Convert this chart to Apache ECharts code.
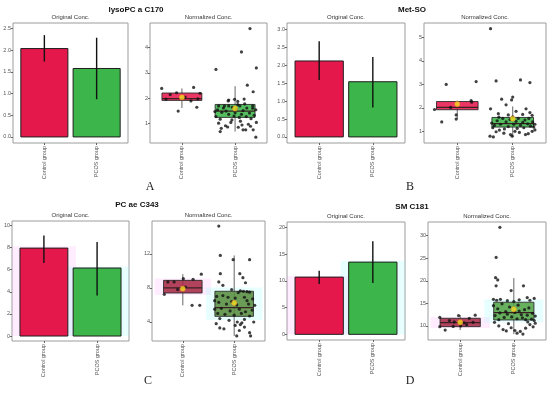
<!DOCTYPE html>
<html><head><meta charset="utf-8">
<script src="https://cdn.jsdelivr.net/npm/echarts@6/dist/echarts.min.js"></script>
<style>html,body{margin:0;padding:0;background:#fff}#c{width:550px;height:394px}</style>
</head><body><div id="c"></div><script>
// ---------------- DATA ----------------
const categories = ['Control group', 'PCOS group'];
const panelTitles = ['lysoPC a C170', 'Met-SO', 'PC ae C343', 'SM C181'];
const panelLetters = ['A', 'B', 'C', 'D'];
const subTitles = ['Original Conc.', 'Normalized Conc.'];

// Original concentration: bar heights and error-bar ends
const barMeanA = [2.04, 1.58], barLowA = [1.74, 0.87], barHighA = [2.35, 2.29];
const barMeanB = [2.12, 1.54], barLowB = [1.59, 0.82], barHighB = [2.67, 2.23];
const barMeanC = [7.95, 6.15], barLowC = [6.6, 3.67], barHighC = [9.1, 8.5];
const barMeanD = [10.7, 13.5], barLowD = [9.4, 9.6], barHighD = [11.9, 17.4];

// Normalized concentration: box stats [lower whisker, Q1, median, Q3, upper whisker]
const boxCtrlA = [1.62, 1.92, 1.99, 2.21, 2.39], boxPcosA = [0.69, 1.25, 1.5, 1.76, 2.48];
const boxCtrlB = [1.52, 1.92, 2.02, 2.27, 2.31], boxPcosB = [0.76, 1.18, 1.33, 1.59, 2.06];
const boxCtrlC = [5.95, 7.4, 8.0, 8.88, 9.6], boxPcosC = [2.36, 4.66, 5.68, 7.6, 11.8];
const boxCtrlD = [9.1, 9.85, 10.74, 11.7, 12.4], boxPcosD = [8.2, 11.33, 12.96, 15.26, 20.6];
const groupMeanA = [2.04, 1.6], groupMeanB = [2.16, 1.54], groupMeanC = [7.9, 6.23], groupMeanD = [10.8, 13.7];

// Individual samples: [jitter offset, value]
const ptsCtrlA = [[-0.38,2.39],[-0.10,2.22],[0.22,2.43],[0.34,2.2],[-0.07,1.5],[0.28,1.65],[0.17,1.9],[0.06,2.05],[-0.22,2.15],[0.3,1.98],[-0.3,1.97]];
const ptsPcosA = [[-0.36,3.14],[0.12,3.83],[0.28,4.75],[0.40,3.20],[0.39,0.47],[0.23,2.52],[0.34,2.26],[0.17,1.97],[-0.12,1.93],[-0.01,1.96],[-0.13,1.90],[0.05,1.88],
 [-0.31,1.70],[-0.20,1.70],[-0.12,1.70],[0.09,1.70],[0.18,1.78],[0.33,1.61],[0.39,1.55],[-0.36,1.28],[-0.31,1.02],[-0.26,0.82],[-0.28,0.69],[-0.18,0.92],[-0.14,0.87],
 [0.06,0.86],[0.15,0.76],[0.20,0.76],[0.25,0.98],[0.29,0.90],[0.34,0.76],[0.40,1.05],[-0.12,1.37],[0.00,1.43],[0.12,1.37],[0.21,1.28],[-0.06,1.15],[0.10,1.10],
 [-0.25,1.45],[-0.33,1.55],[-0.22,1.62],[0.27,1.42],[0.36,1.33],[0.02,1.58],[-0.05,1.65],[0.15,1.52],[-0.17,1.50],[0.30,1.20],[-0.02,1.30],[0.08,1.25],[-0.28,1.18],
 [0.22,1.62],[0.13,0.95],[-0.08,1.05],[0.33,1.70],[-0.38,1.48],[0.05,1.75]];
const ptsCtrlB = [[-0.2,3.0],[0.34,3.12],[-0.28,1.4],[-0.41,1.93],[-0.12,2.02],[-0.02,1.7],[-0.02,1.52],[0.26,2.24],[0.25,2.31]];
const ptsPcosB = [[-0.4,5.38],[-0.3,3.15],[0.14,3.19],[0.31,3.08],[0.0,2.46],[-0.02,2.34],[-0.2,2.37],[-0.4,1.96],[-0.12,2.13],[0.24,1.96],[0.31,1.8],[-0.41,0.79],
 [-0.35,0.76],[-0.04,0.86],[-0.01,0.79],[0.23,0.86],[0.4,1.06],[-0.38,1.35],[-0.33,1.25],[-0.28,1.45],[-0.22,1.3],[-0.18,1.55],[-0.12,1.4],[-0.08,1.2],[-0.05,1.5],
 [0.02,1.3],[0.06,1.42],[0.1,1.55],[0.14,1.25],[0.18,1.38],[0.22,1.48],[0.27,1.32],[0.32,1.22],[0.36,1.4],[0.4,1.3],[-0.36,1.15],[-0.25,1.6],[-0.15,1.1],[0.0,1.62],
 [0.08,1.12],[0.2,1.15],[0.29,1.55],[0.38,1.18],[-0.3,0.98],[-0.16,0.92],[0.04,1.0],[0.12,0.95],[0.28,0.9],[0.35,1.0],[-0.24,1.05],[-0.26,1.75],[0.06,1.85],
 [-0.08,1.7],[0.18,1.72],[0.35,1.68]];
const ptsCtrlC = [[-0.36,7.24],[-0.29,8.7],[-0.17,8.7],[0.01,9.08],[0.2,9.0],[0.36,9.6],[0.18,5.95],[0.33,5.95],[-0.1,7.8],[0.05,8.1]];
const ptsPcosC = [[-0.3,15.25],[-0.27,11.8],[-0.02,11.3],[0.3,11.3],[-0.27,9.66],[0.11,9.66],[0.17,9.2],[-0.3,8.7],[0.22,8.6],[-0.22,8.3],[-0.05,7.8],[0.12,7.65],
 [0.18,7.6],[0.25,7.55],[0.3,7.5],[0.08,7.45],[-0.34,7.0],[-0.22,7.1],[-0.12,6.9],[0.02,6.8],[0.2,6.9],[0.36,6.7],[-0.3,6.3],[-0.15,6.1],[0.05,6.0],[0.28,6.1],
 [0.4,5.95],[-0.38,5.5],[-0.25,5.6],[-0.08,5.3],[0.1,5.5],[0.22,5.2],[0.35,5.4],[-0.32,5.0],[-0.18,4.9],[0.0,4.8],[0.14,5.0],[0.3,4.7],[-0.28,4.4],[-0.1,4.2],
 [0.06,4.0],[0.2,4.3],[0.38,4.0],[-0.35,3.8],[0.15,3.9],[0.02,3.6],[0.12,3.7],[-0.28,3.3],[-0.2,3.2],[0.2,3.4],[0.3,2.75],[0.32,2.36],[0.05,2.36],[0.1,3.0],
 [-0.05,6.4],[-0.38,6.5],[0.25,6.5]];
const ptsCtrlD = [[-0.38,11.9],[-0.38,9.85],[-0.28,9.1],[-0.2,11.2],[-0.11,10.9],[0.07,10.7],[0.17,11.7],[0.24,10.8],[0.28,12.4],[-0.03,12.3],[-0.13,9.9],[0.01,10.0],[0.12,10.3]];
const ptsPcosD = [[-0.26,31.85],[-0.33,25.2],[-0.34,20.7],[-0.3,20.2],[-0.33,18.9],[0.18,18.9],[-0.05,17.85],[0.25,16.3],[-0.38,15.9],[-0.32,15.7],[-0.25,15.9],
 [-0.12,15.6],[0.0,15.4],[0.1,15.8],[0.3,15.7],[0.38,16.1],[-0.38,14.5],[-0.3,13.8],[-0.22,14.9],[-0.15,13.2],[-0.08,14.2],[0.02,13.0],[0.08,14.6],[0.14,12.5],
 [0.2,13.6],[0.28,14.0],[0.35,12.8],[0.4,12.2],[-0.35,12.3],[-0.26,12.9],[-0.18,11.9],[-0.04,12.0],[0.06,11.6],[0.16,11.8],[0.25,12.4],[0.33,11.5],[-0.12,12.6],
 [0.1,13.3],[0.22,11.4],[0.38,11.2],[-0.28,11.4],[-0.36,10.8],[-0.28,10.0],[-0.2,9.2],[-0.14,8.9],[-0.05,9.6],[0.02,9.0],[0.06,8.4],[0.12,8.8],[0.17,8.2],
 [0.22,9.5],[0.3,10.3],[0.36,9.8],[0.4,10.6],[-0.1,10.5],[0.26,10.9]];

// Axis tick values
const ticksBarA = [0, 0.5, 1, 1.5, 2, 2.5], ticksBoxA = [1, 2, 3, 4];
const ticksBarB = [0, 0.5, 1, 1.5, 2, 2.5, 3], ticksBoxB = [1, 2, 3, 4, 5];
const ticksBarC = [0, 2, 4, 6, 8, 10], ticksBoxC = [4, 8, 12];
const ticksBarD = [0, 5, 10, 15, 20], ticksBoxD = [10, 15, 20, 25, 30];

// ---------------- LAYOUT / STYLE ----------------
const grids = [
  {left: 13, top: 23, width: 115, height: 120}, {left: 150, top: 23, width: 117, height: 120},
  {left: 287, top: 23, width: 118, height: 120}, {left: 424, top: 23, width: 122, height: 120},
  {left: 12, top: 221, width: 117, height: 120}, {left: 152, top: 221, width: 113, height: 120},
  {left: 287, top: 222, width: 118, height: 118}, {left: 428, top: 222, width: 118, height: 118}
];
const yRanges = [[-0.14, 2.63], [0.24, 4.97], [-0.17, 3.18], [0.5, 5.62], [-0.45, 10.4], [1.77, 15.84], [-1.06, 21], [6.89, 33.04]];
const yTicks = [ticksBarA, ticksBoxA, ticksBarB, ticksBoxB, ticksBarC, ticksBoxC, ticksBarD, ticksBoxD];
const yDecimals = [1, 0, 1, 0, 0, 0, 0, 0];

const panels = [
  {mean: barMeanA, lo: barLowA, hi: barHighA, boxes: [boxCtrlA, boxPcosA], gm: groupMeanA, pts: [ptsCtrlA, ptsPcosA],
   boxFill: ['#e8194e', '#3cb54a'], glow: false},
  {mean: barMeanB, lo: barLowB, hi: barHighB, boxes: [boxCtrlB, boxPcosB], gm: groupMeanB, pts: [ptsCtrlB, ptsPcosB],
   boxFill: ['#e8194e', '#3cb54a'], glow: false},
  {mean: barMeanC, lo: barLowC, hi: barHighC, boxes: [boxCtrlC, boxPcosC], gm: groupMeanC, pts: [ptsCtrlC, ptsPcosC],
   boxFill: ['#a92a45', '#5a8e40'], glow: true},
  {mean: barMeanD, lo: barLowD, hi: barHighD, boxes: [boxCtrlD, boxPcosD], gm: groupMeanD, pts: [ptsCtrlD, ptsPcosD],
   boxFill: ['#a52a48', '#55a548'], glow: true}
];
const barFill = ['#e5184c', '#3cb54a'];
const glowFill = ['rgba(255,140,255,0.16)', 'rgba(120,255,255,0.18)'];
const txtCol = '#555';

const option = {animation: false, backgroundColor: '#fff', grid: [], xAxis: [], yAxis: [], series: [], graphic: []};

grids.forEach((g, i) => {
  option.grid.push(Object.assign({show: true, borderColor: '#9c9c9c', borderWidth: 1, backgroundColor: '#fff', containLabel: false}, g));
  option.xAxis.push({
    gridIndex: i, type: 'value', min: -0.6, max: 1.6, position: 'bottom',
    splitLine: {show: false}, axisLine: {show: false, onZero: false},
    axisTick: {show: true, customValues: [0, 1], length: 2, lineStyle: {color: '#666'}},
    axisLabel: {customValues: [0, 1], rotate: 90, fontSize: 5.5, color: txtCol, margin: 3, fontFamily: 'Liberation Sans',
      formatter: v => categories[Math.round(v)] || ''}
  });
  const dec = yDecimals[i];
  option.yAxis.push({
    gridIndex: i, type: 'value', min: yRanges[i][0], max: yRanges[i][1], position: 'left',
    splitLine: {show: false}, axisLine: {show: false, onZero: false},
    axisTick: {show: true, customValues: yTicks[i], length: 2, lineStyle: {color: '#666'}},
    axisLabel: {customValues: yTicks[i], fontSize: 5.5, color: txtCol, margin: 2, fontFamily: 'Liberation Sans',
      formatter: v => Number(v).toFixed(dec)}
  });
  option.graphic.push({type: 'text', x: g.left + g.width / 2, y: g.top - 6, silent: true,
    style: {text: subTitles[i % 2], align: 'center', verticalAlign: 'middle', textAlign: 'center', textVerticalAlign: 'middle',
      fontSize: 6, fontFamily: 'Liberation Sans', fill: '#333'}});
});

const titlePos = [[136, 10], [412, 10], [137, 205], [412, 207]];
const letterPos = [[150, 187], [410, 187], [148, 381], [410, 381]];
panelTitles.forEach((t, k) => {
  option.graphic.push({type: 'text', x: titlePos[k][0], y: titlePos[k][1], silent: true,
    style: {text: t, align: 'center', verticalAlign: 'middle', textAlign: 'center', textVerticalAlign: 'middle',
      fontSize: 8, fontWeight: 'bold', fontFamily: 'Liberation Sans', fill: '#111'}});
  option.graphic.push({type: 'text', x: letterPos[k][0], y: letterPos[k][1], silent: true,
    style: {text: panelLetters[k], align: 'center', verticalAlign: 'middle', textAlign: 'center', textVerticalAlign: 'middle',
      fontSize: 12, fontFamily: 'Liberation Serif', fill: '#222'}});
});

function rectFrom(api, x0, y0, x1, y1) {
  const a = api.coord([x0, y1]), b = api.coord([x1, y0]);
  return {x: a[0], y: a[1], width: b[0] - a[0], height: b[1] - a[1]};
}

panels.forEach((p, k) => {
  const gb = 2 * k, gx = 2 * k + 1;
  if (p.glow) {
    option.series.push({type: 'custom', xAxisIndex: gb, yAxisIndex: gb, silent: true,
      data: p.mean.map((m, i) => [i, m]),
      renderItem: (params, api) => ({type: 'rect', shape: rectFrom(api, api.value(0) - 0.6, 0, api.value(0) + 0.6, api.value(1) * 1.02),
        style: {fill: glowFill[params.dataIndex]}})});
    option.series.push({type: 'custom', xAxisIndex: gx, yAxisIndex: gx, silent: true,
      data: p.boxes.map((b, i) => [i, b[1], b[3]]),
      renderItem: (params, api) => {
        const r = (api.value(2) - api.value(1)) * 0.15;
        return {type: 'rect', shape: rectFrom(api, api.value(0) - 0.55, api.value(1) - r, api.value(0) + 0.55, api.value(2) + r),
          style: {fill: glowFill[params.dataIndex]}};
      }});
  }
  option.series.push({type: 'custom', xAxisIndex: gb, yAxisIndex: gb, silent: true,
    data: p.mean.map((m, i) => [i, m]),
    renderItem: (params, api) => ({type: 'rect', shape: rectFrom(api, api.value(0) - 0.45, 0, api.value(0) + 0.45, api.value(1)),
      style: {fill: barFill[params.dataIndex], stroke: '#1e1e1e', lineWidth: 1}})});
  option.series.push({type: 'custom', xAxisIndex: gb, yAxisIndex: gb, silent: true,
    data: p.lo.map((l, i) => [i, l, p.hi[i]]),
    renderItem: (params, api) => {
      const a = api.coord([api.value(0), api.value(1)]), b = api.coord([api.value(0), api.value(2)]);
      return {type: 'line', shape: {x1: a[0], y1: a[1], x2: b[0], y2: b[1]}, style: {stroke: '#111', lineWidth: 1.4}};
    }});
  const fills = p.boxFill;
  option.series.push({type: 'custom', xAxisIndex: gx, yAxisIndex: gx, silent: true,
    data: p.boxes.map((b, i) => [i].concat(b)),
    renderItem: (params, api) => {
      const x = api.value(0), w = 0.375;
      const top = api.coord([x, api.value(5)]), bot = api.coord([x, api.value(1)]);
      const m0 = api.coord([x - w, api.value(3)]), m1 = api.coord([x + w, api.value(3)]);
      return {type: 'group', children: [
        {type: 'line', shape: {x1: top[0], y1: top[1], x2: bot[0], y2: bot[1]}, style: {stroke: '#666', lineWidth: 1}},
        {type: 'rect', shape: rectFrom(api, x - w, api.value(2), x + w, api.value(4)),
          style: {fill: fills[params.dataIndex], stroke: '#2a2a2a', lineWidth: 1, opacity: 0.88}},
        {type: 'line', shape: {x1: m0[0], y1: m0[1], x2: m1[0], y2: m1[1]}, style: {stroke: '#3a2020', lineWidth: 1.2}}
      ]};
    }});
  option.series.push({type: 'scatter', xAxisIndex: gx, yAxisIndex: gx, silent: true, symbolSize: 3.2,
    itemStyle: {color: '#111'},
    data: p.pts[0].map(q => [0 + q[0], q[1]]).concat(p.pts[1].map(q => [1 + q[0], q[1]]))});
  option.series.push({type: 'scatter', xAxisIndex: gx, yAxisIndex: gx, silent: true, symbolSize: 5,
    itemStyle: {color: '#f2e420', borderColor: '#f59a23', borderWidth: 0.8},
    data: p.gm.map((m, i) => [i, m])});
});

const chart = echarts.init(document.getElementById('c'), null, {renderer: 'canvas'});
chart.setOption(option);
</script></body></html>
